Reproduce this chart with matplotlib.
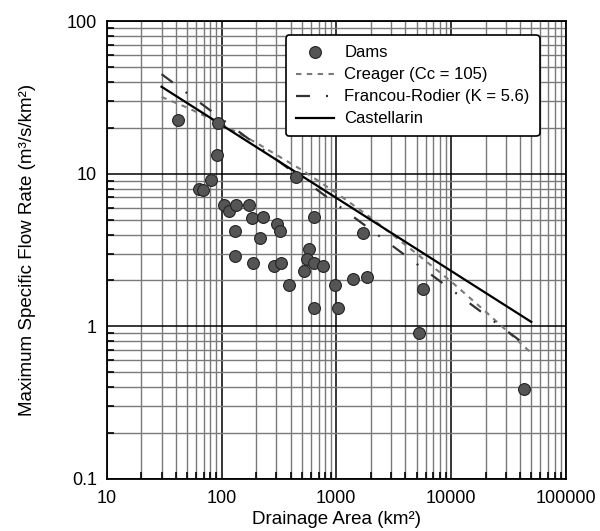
"""
Caudal específico máximo vs área de drenaje (log-log).
"""

import matplotlib
matplotlib.use("Agg")
import matplotlib.pyplot as plt
from matplotlib.ticker import FixedLocator, LogLocator, NullFormatter

plt.rcParams["font.family"] = ["Liberation Sans", "DejaVu Sans"]

# --- datos ---
dam_area = [42, 93, 91, 81, 64, 69, 106, 117, 134, 172, 184, 230, 305, 326,
            132, 215, 443, 640, 1694, 132, 187, 287, 328, 582, 556, 644, 766,
            520, 385, 973, 1406, 1849, 640, 1035, 5745, 5227, 43150]
dam_q = [22.5, 21.6, 13.2, 9.1, 8.0, 7.8, 6.2, 5.7, 6.2, 6.2, 5.1, 5.2, 4.7,
         4.2, 4.2, 3.8, 9.5, 5.2, 4.1, 2.9, 2.6, 2.5, 2.6, 3.2, 2.75, 2.6,
         2.5, 2.3, 1.87, 1.87, 2.04, 2.12, 1.32, 1.32, 1.75, 0.90, 0.39]

creager_area = [30, 50, 100, 200, 500, 1000, 2000, 5000, 10000, 20000, 50000]
creager_q = [31.9, 27.2, 21.2, 16.0, 10.6, 7.5, 5.15, 3.0, 1.97, 1.25, 0.67]

francou_area = [30, 50000]
francou_q = [45.0, 0.71]

castellarin_area = [30, 50000]
castellarin_q = [37.2, 1.07]

x_ticks = [10, 100, 1000, 10000, 100000]
x_labels = ["10", "100", "1000", "10000", "100000"]
y_ticks = [0.1, 1, 10, 100]
y_labels = ["0.1", "1", "10", "100"]


fig = plt.figure(figsize=(6.0, 5.31), dpi=100)
ax = fig.add_axes([0.178, 0.098, 0.765, 0.862])

ax.set_xscale("log")
ax.set_yscale("log")
ax.set_xlim(10, 100000)
ax.set_ylim(0.1, 100)

# rejilla
ax.grid(which="major", color="black", linewidth=1.1, zorder=0)
ax.grid(which="minor", color="#7a7a7a", linewidth=1.0, zorder=0)
ax.set_axisbelow(True)

ax.plot(dam_area, dam_q, linestyle="none", marker="o", markersize=8.5,
        markerfacecolor="#555555", markeredgecolor="#222222",
        markeredgewidth=0.8, label="Dams", zorder=4)
ax.plot(creager_area, creager_q, color="#7a7a7a", linewidth=1.5,
        dashes=(2.6, 2.6), label="Creager (Cc = 105)", zorder=3)
ax.plot(francou_area, francou_q, color="#333333", linewidth=1.6,
        dashes=(6.3, 7.2, 0.9, 7.2), label="Francou-Rodier (K = 5.6)", zorder=3)
ax.plot(castellarin_area, castellarin_q, color="black", linewidth=1.6,
        label="Castellarin", zorder=3)

ax.xaxis.set_major_locator(FixedLocator(x_ticks))
ax.set_xticklabels(x_labels)
ax.yaxis.set_major_locator(FixedLocator(y_ticks))
ax.set_yticklabels(y_labels)
ax.xaxis.set_minor_locator(LogLocator(base=10, subs=range(2, 10), numticks=20))
ax.yaxis.set_minor_locator(LogLocator(base=10, subs=range(2, 10), numticks=20))
ax.xaxis.set_minor_formatter(NullFormatter())
ax.yaxis.set_minor_formatter(NullFormatter())
ax.tick_params(which="both", direction="in", labelsize=13, color="black")
ax.tick_params(which="major", length=0)
ax.tick_params(axis="x", which="major", pad=8)
ax.tick_params(axis="y", which="major", pad=7)
ax.tick_params(which="minor", length=5, width=1.2)

for sp in ax.spines.values():
    sp.set_linewidth(1.3)

ax.set_xlabel("Drainage Area (km²)", fontsize=13.5, labelpad=3)
ax.set_ylabel("Maximum Specific Flow Rate (m³/s/km²)", fontsize=13.5,
              labelpad=22)

leg = ax.legend(loc="upper right", bbox_to_anchor=(0.943, 0.969),
                borderaxespad=0, fontsize=12, handlelength=2.3,
                handletextpad=0.6, labelspacing=0.42, fancybox=True,
                framealpha=1, edgecolor="black", borderpad=0.6)
leg.get_frame().set_linewidth(1.2)

plt.savefig("out.png", dpi=100)
